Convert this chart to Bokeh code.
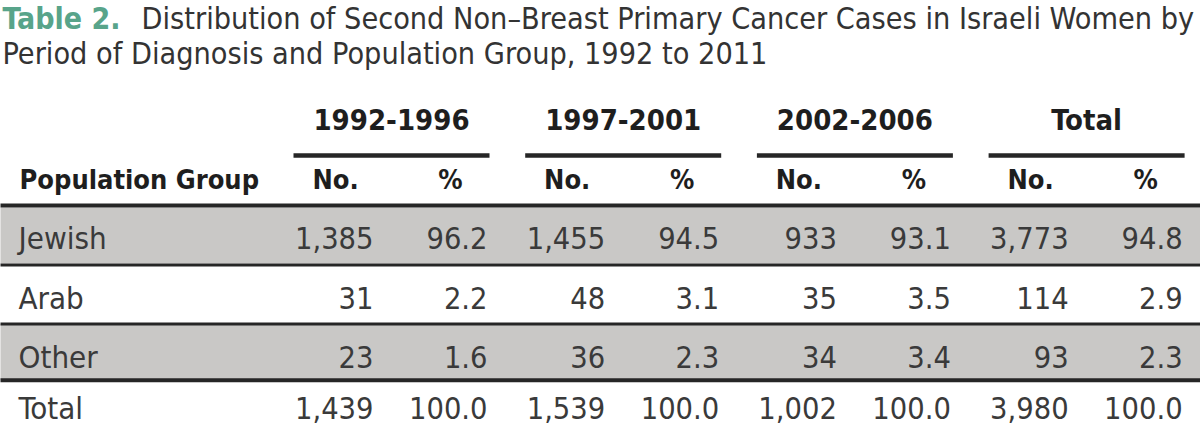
from bokeh.plotting import figure
from bokeh.models import Range1d
from bokeh.core.properties import value
from bokeh.embed import file_html
from bokeh.resources import INLINE

# ---- data ----
title_label = "Table 2."
title_line1 = "Distribution of Second Non\u2013Breast Primary Cancer Cases in Israeli Women by"
title_line2 = "Period of Diagnosis and Population Group, 1992 to 2011"
periods = ["1992-1996", "1997-2001", "2002-2006", "Total"]
sub_headers = ["No.", "%"]
stub_header = "Population Group"
groups = ["Jewish", "Arab", "Other", "Total"]
jewish_no = [1385, 1455, 933, 3773]
jewish_pct = [96.2, 94.5, 93.1, 94.8]
arab_no = [31, 48, 35, 114]
arab_pct = [2.2, 3.1, 3.5, 2.9]
other_no = [23, 36, 34, 93]
other_pct = [1.6, 2.3, 3.4, 2.3]
total_no = [1439, 1539, 1002, 3980]
total_pct = [100.0, 100.0, 100.0, 100.0]

rows_no = [jewish_no, arab_no, other_no, total_no]
rows_pct = [jewish_pct, arab_pct, other_pct, total_pct]

# ---- layout ----
W, H = 1200, 426
FONT = "'DejaVu Sans Condensed', 'DejaVu Sans', sans-serif"
TEAL = "#58a48a"
TXT = "#3a3a3a"
HDR = "#1e1e1e"
GRAY = "#c9c8c6"
RULE = "#262626"
TY = -11  # text baseline correction

p = figure(width=W, height=H, x_range=Range1d(0, W), y_range=Range1d(H, 0),
           output_backend="svg", toolbar_location=None, min_border=0,
           outline_line_color=None, background_fill_color="white",
           border_fill_color="white")
p.axis.visible = False
p.grid.visible = False

group_start0, group_pitch = 293.0, 231.7
group_width = 196.0
no_off, pct_off = 80.0, 194.0
row_top0, row_pitch = 207.0, 58.3
row_h = 56.0
base_rows = [248, 308, 367, 418]

# row bands (gray for Jewish and Other)
band_idx = [0, 2]
p.quad(left=[-20] * len(band_idx), right=[1220] * len(band_idx),
       top=[row_top0 + i * row_pitch for i in band_idx],
       bottom=[row_top0 + i * row_pitch + row_h for i in band_idx],
       fill_color=GRAY, line_color=None)

# rules
p.segment(x0=[-20], x1=[1220], y0=[205], y1=[205], line_color=RULE, line_width=4)
sep_y = [264.6, 323.6, 379.8]
sep_w = [3, 3, 4]
for yy, ww in zip(sep_y, sep_w):
    p.segment(x0=[-20], x1=[1220], y0=[yy], y1=[yy], line_color=RULE, line_width=ww)

# period underlines
gs = [group_start0 + i * group_pitch for i in range(len(periods))]
p.segment(x0=gs, x1=[g + group_width for g in gs], y0=[155] * len(gs), y1=[155] * len(gs),
          line_color=RULE, line_width=4.5)

def txt(x, y, t, size, color, align="left", style="normal"):
    p.text(x=x, y=[v + TY for v in y], text=t, text_font=value(FONT),
           text_font_size=value(size), text_color=color, text_align=align,
           text_baseline="alphabetic", text_font_style=style)

# title
txt([2], [29], [title_label], "30px", TEAL, style="bold")
txt([141], [29], [title_line1], "30.3px", "#333333")
txt([2], [64], [title_line2], "30.3px", "#333333")

# headers
txt([g + group_width / 2 for g in gs], [130] * len(gs), periods, "29px", HDR, "center", "bold")
txt([19], [190], [stub_header], "27px", HDR, style="bold")
txt([g + no_off - 38 for g in gs], [190] * len(gs), [sub_headers[0]] * len(gs), "27px", HDR, "center", "bold")
txt([g + pct_off - 37 for g in gs], [190] * len(gs), [sub_headers[1]] * len(gs), "27px", HDR, "center", "bold")

# body
txt([18] * len(groups), base_rows, groups, "31px", TXT)
for r in range(len(groups)):
    txt([g + no_off for g in gs], [base_rows[r]] * len(gs),
        [f"{n:,}" for n in rows_no[r]], "30.5px", TXT, "right")
    txt([g + pct_off for g in gs], [base_rows[r]] * len(gs),
        [f"{v:.1f}" for v in rows_pct[r]], "30.5px", TXT, "right")

open("out.html", "w").write(file_html(p, INLINE))
